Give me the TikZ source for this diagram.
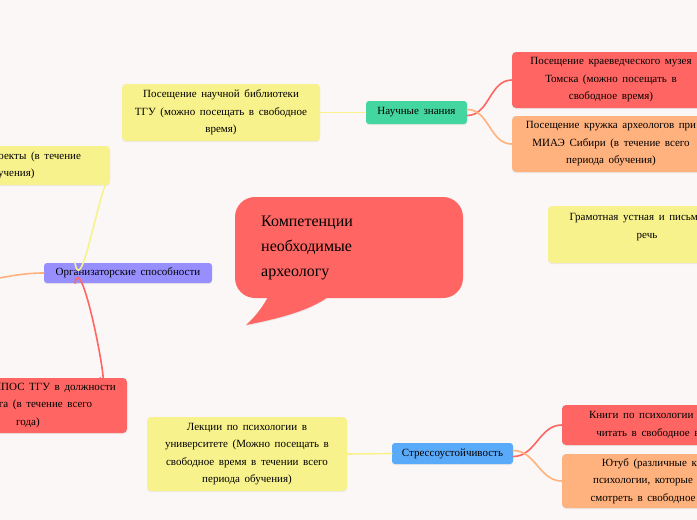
\documentclass[tikz,border=0pt]{standalone}
\usepackage{fontspec}
\setmainfont{Liberation Serif}
\usetikzlibrary{shadows}
\definecolor{bgpaper}{RGB}{251,247,247}
\definecolor{mmred}{RGB}{255,102,99}
\definecolor{mmyellow}{RGB}{248,242,140}
\definecolor{mmorange}{RGB}{255,178,125}
\definecolor{mmgreen}{RGB}{67,214,160}
\definecolor{mmpurple}{RGB}{152,143,255}
\definecolor{mmblue}{RGB}{90,170,250}
\newcommand{\leaffont}{\fontsize{11}{17.5}\selectfont\spaceskip=0.42em plus 0.1em\relax}
\tikzset{
  idea/.style={rounded corners=4pt,align=center,inner sep=0pt,font=\leaffont,
    drop shadow={opacity=0.12,shadow xshift=0pt,shadow yshift=-1.2pt}},
  branch/.style={idea,rounded corners=3pt},
  link/.style={line width=1.6pt,line cap=round}
}

\begin{document}
\begin{tikzpicture}[x=1pt,y=-1pt]
\useasboundingbox (0,0) rectangle (697,520);
\fill[bgpaper] (0,0) rectangle (697,520);
% central topic bubble
\fill[mmred,drop shadow={opacity=0.12,shadow xshift=0pt,shadow yshift=-1.2pt}]
  (268,297) .. controls (262,308) and (254,318) .. (246,325)
  .. controls (282,318) and (310,310) .. (328,297) -- cycle;
\fill[mmred,rounded corners=20pt] (235,197) rectangle (463,298);
\node[anchor=west,align=left,font=\fontsize{16}{25}\selectfont,inner sep=0pt] (central) at (261,248)
  {Компетенции\\необходимые\\археологу};
% branch: knowledge
\node[branch,fill=mmgreen,minimum width=101pt,minimum height=23pt] (nauch) at (416.5,112.5) {Научные знания};
\node[idea,fill=mmyellow,minimum width=198pt,minimum height=57pt] (lib) at (221,112.5)
  {Посещение научной библиотеки\\ТГУ (можно посещать в свободное\\время)};
\node[idea,fill=mmred,minimum width=198pt,minimum height=56pt] (museum) at (611,80)
  {Посещение краеведческого музея\\Томска (можно посещать в\\свободное время)};
\node[idea,fill=mmorange,minimum width=198pt,minimum height=56pt] (circle) at (611,144)
  {Посещение кружка археологов при\\МИАЭ Сибири (в течение всего\\периода обучения)};
\node[idea,fill=mmyellow,minimum width=198pt,minimum height=57pt] (speech) at (647,234.5)
  {Грамотная устная и письменная\\речь\\~};
% branch: organising
\node[branch,fill=mmpurple,minimum width=168pt,minimum height=20pt] (org) at (128,273) {Организаторские способности};
\node[idea,fill=mmyellow,minimum width=198pt,minimum height=39pt] (projects) at (11,165.5)
  {Научные проекты (в течение\\обучения)};
\node[idea,fill=mmred,minimum width=198pt,minimum height=55pt] (union) at (28,405.5)
  {Участие в ППОС ТГУ в должности\\профорга (в течение всего\\года)};
\coordinate (offleft) at (-40,282);
% branch: stress
\node[branch,fill=mmblue,minimum width=121pt,minimum height=21pt] (stress) at (452.5,453.5) {Стрессоустойчивость};
\node[idea,fill=mmyellow,minimum width=200pt,minimum height=74pt] (lectures) at (247,454)
  {Лекции по психологии в\\университете (Можно посещать в\\свободное время в течении всего\\периода обучения)};
\node[idea,fill=mmred,minimum width=198pt,minimum height=40pt] (books) at (661,425)
  {Книги по психологии (можно\\читать в свободное время)};
\node[idea,fill=mmorange,minimum width=198pt,minimum height=54pt] (youtube) at (661,481)
  {Ютуб (различные курсы\\психологии, которые можно\\смотреть в свободное время)};
% connectors
\draw[link,mmyellow] (nauch.west) -- (lib.east);
\draw[link,mmred] ([yshift=-3pt]nauch.east) to[out=0,in=180] (museum.west);
\draw[link,mmorange] ([yshift=3pt]nauch.east) to[out=0,in=180] (circle.west);
\draw[link,mmyellow] ([xshift=-53pt]org.north) to[out=-80,in=250] ([xshift=-5pt]projects.south east);
\draw[link,mmorange] (org.west) to[out=180,in=0] (offleft);
\draw[link,mmred] ([xshift=-53pt]org.south) to[out=80,in=-70] ([xshift=-27pt]union.north east);
\draw[link,mmyellow] (stress.west) -- (lectures.east);
\draw[link,mmred] ([yshift=-3pt]stress.east) to[out=0,in=180] (books.west);
\draw[link,mmorange] ([yshift=3pt]stress.east) to[out=0,in=180] (youtube.west);
\end{tikzpicture}
\end{document}
